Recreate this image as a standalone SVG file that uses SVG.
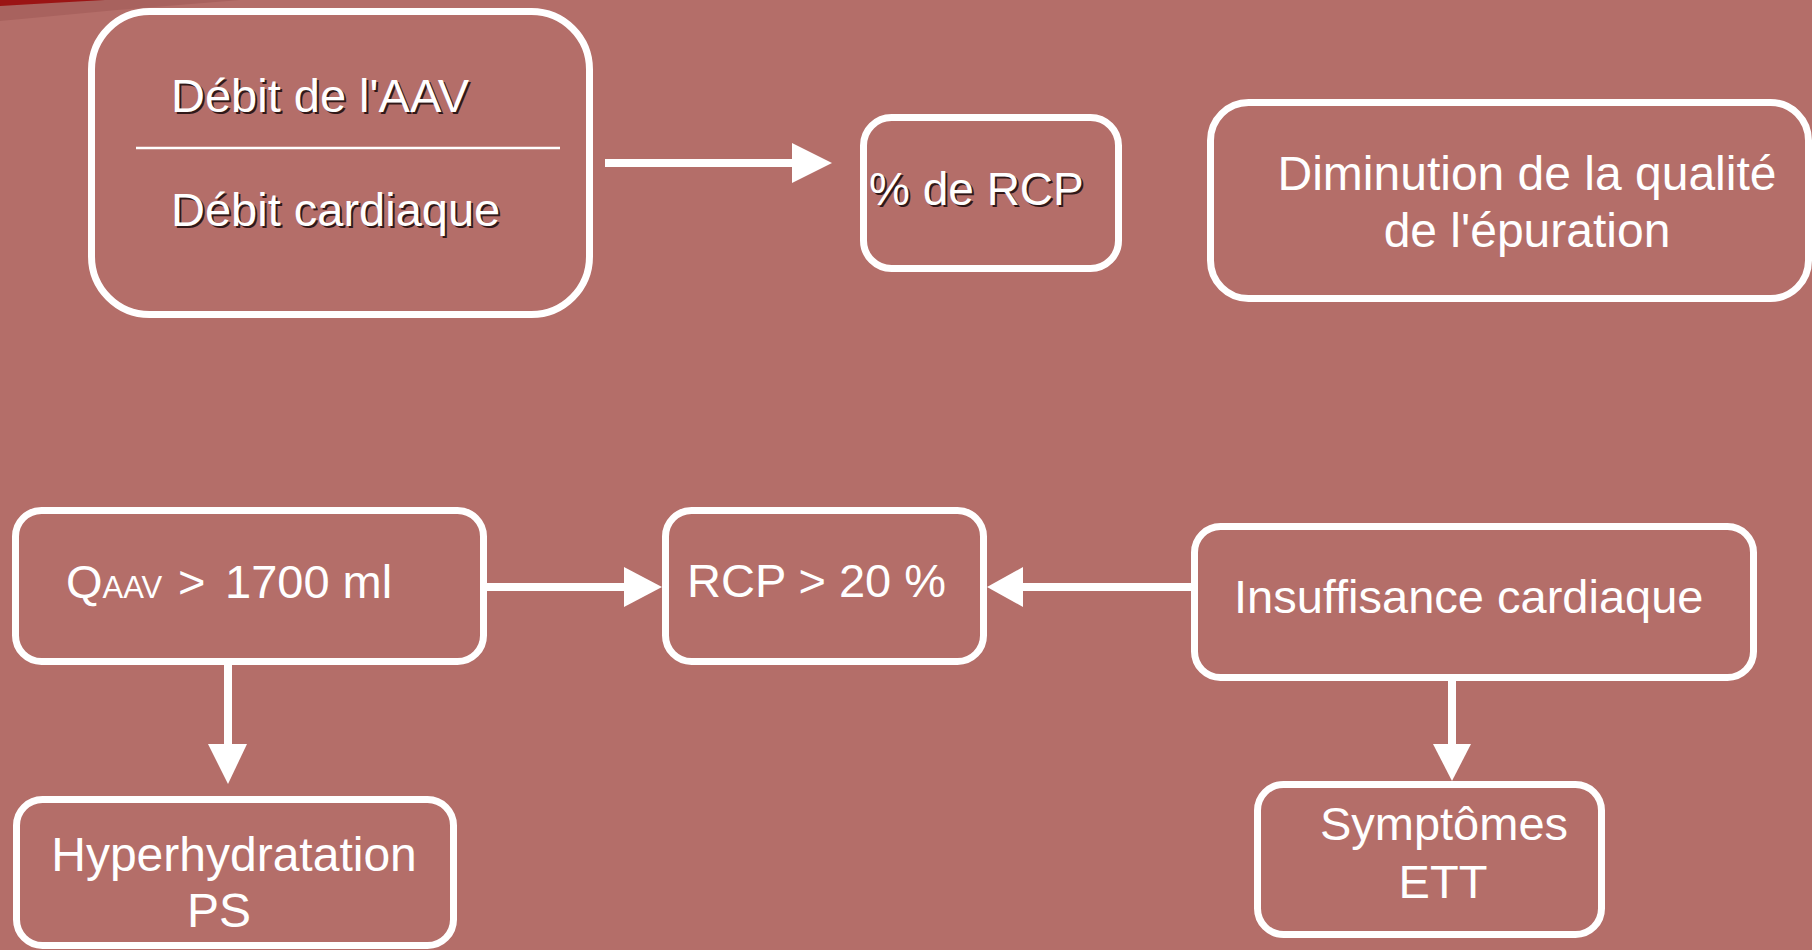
<svg xmlns="http://www.w3.org/2000/svg" width="1812" height="950" viewBox="0 0 1812 950">
<style>
.box{fill:none;stroke:#ffffff;stroke-width:7}
.t{font-family:"Liberation Sans",Arial,sans-serif;font-size:47px;fill:#ffffff}
.sh{font-family:"Liberation Sans",Arial,sans-serif;font-size:47px;fill:#1a0a0a;opacity:0.85}
.ln{stroke:#ffffff;stroke-width:8;fill:none}
.hd{fill:#ffffff}
</style>
<rect x="0" y="0" width="1812" height="950" fill="#b46e69"/>
<path d="M0,0 L240,0 Q120,9 0,21 Z" fill="#a8625e"/>
<path d="M0,0 L105,0 Q50,3 0,6 Z" fill="#9b1414"/>

<g id="node-debit">
  <rect class="box" x="91.5" y="11.5" width="498" height="303" rx="58"/>
  <line x1="136" y1="148" x2="560" y2="148" stroke="#ffffff" stroke-width="2.5"/>
  <text class="sh" x="173" y="114">Débit de l'AAV</text>
  <text class="t" x="171" y="112">Débit de l'AAV</text>
  <text class="sh" x="173" y="228">Débit cardiaque</text>
  <text class="t" x="171" y="226">Débit cardiaque</text>
</g>
<g id="node-pct-rcp">
  <rect class="box" x="863.5" y="117.5" width="255" height="151" rx="28"/>
  <text class="sh" x="871" y="207" style="font-size:46px">% de RCP</text>
  <text class="t" x="869" y="205" style="font-size:46px">% de RCP</text>
</g>
<g id="node-diminution">
  <rect class="box" x="1210.5" y="102.5" width="598" height="196" rx="38"/>
  <text class="t" x="1527" y="190" text-anchor="middle" style="font-size:48px">Diminution de la qualité</text>
  <text class="t" x="1527" y="247" text-anchor="middle" style="font-size:48px">de l'épuration</text>
</g>
<g id="node-qaav">
  <rect class="box" x="15.5" y="510.5" width="468" height="151" rx="26"/>
  <text class="t" x="66" y="598">Q<tspan style="font-size:31px">AAV</tspan><tspan x="178">&gt;</tspan><tspan x="225">1700 ml</tspan></text>
</g>
<g id="node-rcp20">
  <rect class="box" x="665.5" y="510.5" width="318" height="151" rx="26"/>
  <text class="t" x="687" y="597">RCP &gt; 20 %</text>
</g>
<g id="node-insuffisance">
  <rect class="box" x="1194.5" y="526.5" width="559" height="151" rx="26"/>
  <text class="t" x="1234" y="613">Insuffisance cardiaque</text>
</g>
<g id="node-symptomes">
  <rect class="box" x="1257.5" y="784.5" width="344" height="150" rx="26"/>
  <text class="t" x="1444" y="840" text-anchor="middle">Symptômes</text>
  <text class="t" x="1443" y="898" text-anchor="middle">ETT</text>
</g>
<g id="node-hyperhydratation">
  <rect class="box" x="16.5" y="799.5" width="437" height="146" rx="26"/>
  <text class="t" x="234" y="871" text-anchor="middle" style="font-size:48px">Hyperhydratation</text>
  <text class="t" x="219" y="927" text-anchor="middle" style="font-size:48px">PS</text>
</g>

<g id="connectors">
  <line class="ln" x1="605" y1="163" x2="794" y2="163"/>
  <polygon class="hd" points="792,143 832,163 792,183"/>
  <line class="ln" x1="487" y1="587" x2="626" y2="587"/>
  <polygon class="hd" points="624,567 662,587 624,607"/>
  <line class="ln" x1="1191" y1="587" x2="1021" y2="587"/>
  <polygon class="hd" points="1023,567 987,587 1023,607"/>
  <line class="ln" x1="1452" y1="681" x2="1452" y2="746"/>
  <polygon class="hd" points="1433,744 1471,744 1452,781"/>
  <line class="ln" x1="228" y1="665" x2="228" y2="746"/>
  <polygon class="hd" points="208,744 247,744 228,784"/>
</g>
</svg>
